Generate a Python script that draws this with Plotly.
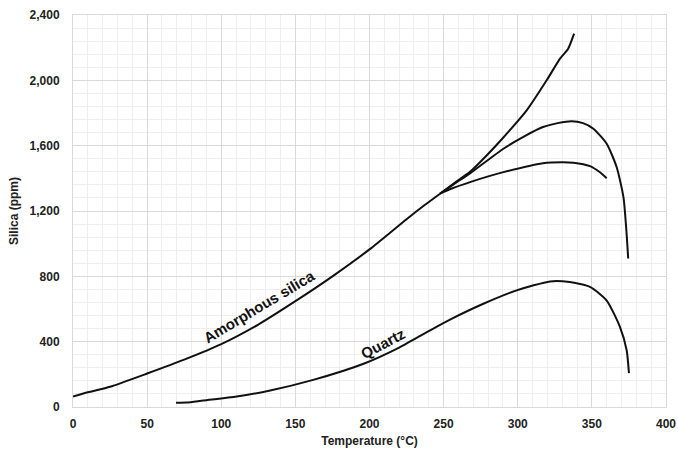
import plotly.graph_objects as go

# Amorphous silica (common part up to ~248 °C)
amorph_T = [0, 10, 25, 50, 75, 100, 125, 150, 175, 200, 225, 237, 247.6]
amorph_S = [64, 90, 124, 205, 290, 385, 505, 648, 800, 965, 1150, 1235, 1306]

# Upper branch
upper_T = [247.6, 257, 267.8, 279, 290.3, 306, 319.5, 328.5, 334, 338]
upper_S = [1306, 1370, 1440, 1540, 1650, 1816, 2000, 2133, 2194, 2286]

# Middle branch
middle_T = [247.6, 257, 267.8, 290.3, 305, 317, 327, 336.4, 344, 351, 360, 366.7, 371.3, 373.2, 374.5]
middle_S = [1306, 1365, 1430, 1581, 1660, 1714, 1738, 1750, 1738, 1704, 1612, 1469, 1285, 1090, 909]

# Lower branch
lower_T = [247.6, 255, 267.8, 290.3, 317, 330, 337.5, 348.7, 355, 360]
lower_S = [1306, 1336, 1377, 1438, 1493, 1499, 1496, 1475, 1440, 1401]

# Quartz
quartz_T = [69.5, 76.7, 88, 110.4, 133, 162, 196, 220, 240.8, 254.3, 276.8, 299.3, 321.8, 335, 349, 360, 369, 373.5, 375]
quartz_S = [26, 27, 40, 64, 101, 166, 265, 364, 469, 535, 632, 714, 769, 765, 734, 652, 489, 346, 207]

x_ticks = [0, 50, 100, 150, 200, 250, 300, 350, 400]
y_ticks = [0, 400, 800, 1200, 1600, 2000, 2400]
y_tick_labels = ["0", "400", "800", "1,200", "1,600", "2,000", "2,400"]

fig = go.Figure()
line = dict(color="#111111", width=2, shape="spline", smoothing=0.6)
for xs, ys in [(amorph_T, amorph_S), (upper_T, upper_S), (middle_T, middle_S),
               (lower_T, lower_S), (quartz_T, quartz_S)]:
    fig.add_trace(go.Scatter(x=xs, y=ys, mode="lines", line=line,
                             showlegend=False, hoverinfo="skip"))

fig.add_annotation(x=125.5, y=615, text="<b>Amorphous silica</b>", showarrow=False,
                   textangle=-31, font=dict(family="Liberation Sans", size=15, color="#111"))
fig.add_annotation(x=209, y=391, text="<b>Quartz</b>", showarrow=False,
                   textangle=-28, font=dict(family="Liberation Sans", size=15, color="#111"))

axis_font = dict(family="Liberation Sans", size=12, color="#222")
fig.update_layout(
    width=678, height=452,
    margin=dict(l=73, r=12, t=15, b=45),
    paper_bgcolor="white", plot_bgcolor="white",
    font=axis_font,
    xaxis=dict(range=[0, 400], tickvals=x_ticks, ticktext=[f"<b>{v}</b>" for v in x_ticks],
               automargin=False,
               showgrid=True, gridcolor="#d9d9d9", gridwidth=1,
               minor=dict(dtick=10, showgrid=True, gridcolor="#eeeeee", gridwidth=1),
               zeroline=False, showline=True, linecolor="#d9d9d9", linewidth=1,
               mirror=True, ticks="outside", ticklen=6, tickcolor="rgba(0,0,0,0)",
               title=dict(text="<b>Temperature (°C)</b>", standoff=6, font=axis_font)),
    yaxis=dict(range=[0, 2400], tickvals=y_ticks,
               ticktext=[f"<b>{t}</b>" for t in y_tick_labels],
               automargin=False,
               showgrid=True, gridcolor="#d9d9d9", gridwidth=1,
               minor=dict(dtick=80, showgrid=True, gridcolor="#eeeeee", gridwidth=1),
               zeroline=False, showline=True, linecolor="#d9d9d9", linewidth=1,
               mirror=True, ticks="outside", ticklen=10, tickcolor="rgba(0,0,0,0)",
               title=dict(text="<b>Silica (ppm)</b>", standoff=8, font=axis_font)),
)

fig.write_html("out.html",
               config={"displayModeBar": False},
               post_script="document.body.style.margin='0';document.body.style.overflow='hidden';")
